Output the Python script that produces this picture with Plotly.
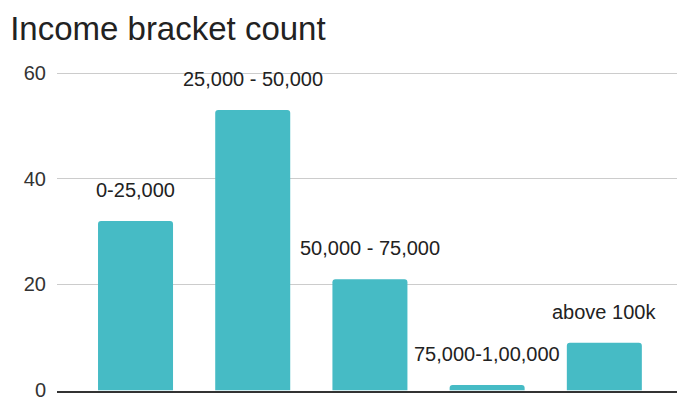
import plotly.graph_objects as go

categories = ["0-25,000", "25,000 - 50,000", "50,000 - 75,000", "75,000-1,00,000", "above 100k"]
counts = [32, 53, 21, 1, 9]
y_ticks = [0, 20, 40, 60]

FONT = "Liberation Sans, Arial, sans-serif"

fig = go.Figure()
fig.add_trace(go.Bar(
    x=list(range(len(categories))), y=counts,
    marker=dict(color="#46BBC5", line=dict(width=0), cornerradius=3),
    width=0.64, hoverinfo="skip",
))

for i, (c, v) in enumerate(zip(categories, counts)):
    fig.add_annotation(x=i, y=v, text=c, showarrow=False, yanchor="bottom",
                       yshift=18, font=dict(family=FONT, size=20, color="#222"))

fig.update_layout(
    width=677, height=401,
    margin=dict(l=57, r=0, t=72, b=8),
    paper_bgcolor="white", plot_bgcolor="white",
    title=dict(text="Income bracket count", x=0.015, xanchor="left", y=0.93, yanchor="middle",
               font=dict(family=FONT, size=33, color="#222")),
    showlegend=False,
    xaxis=dict(range=[-0.67, 4.62], showticklabels=False, showgrid=False, zeroline=False,
               showline=True, linecolor="#333", linewidth=1.5, ticks=""),
    yaxis=dict(range=[-0.15, 60.2], tickvals=y_ticks, showgrid=True, gridcolor="#cccccc",
               gridwidth=1, zeroline=False, showline=False, ticks="",
               tickfont=dict(family=FONT, size=20, color="#333"),
               ticklabelstandoff=10, ticklabeloverflow="allow"),
)

fig.write_html("out.html")
